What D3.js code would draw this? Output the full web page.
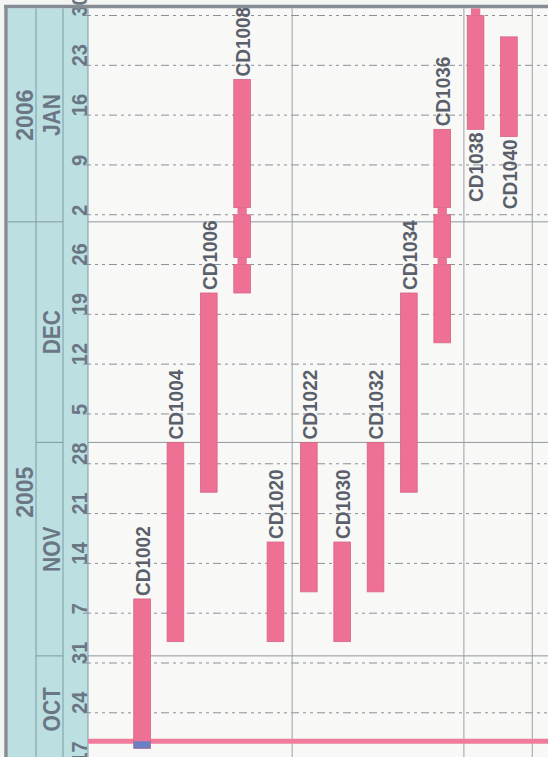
<!DOCTYPE html>
<html>
<head>
<meta charset="utf-8">
<script src="https://cdn.jsdelivr.net/npm/d3@7"></script>
<style>
  html, body { margin: 0; padding: 0; background: #f3f5f2; }
  svg { display: block; }
</style>
</head>
<body>
<svg id="chart" width="548" height="757"></svg>
<script>
// ---- schedule data ----
const tasks      = ["CD1002","CD1004","CD1006","CD1008","CD1020","CD1022","CD1030","CD1032","CD1034","CD1036","CD1038","CD1040"];
const startDates = ["2005-10-19","2005-11-03","2005-11-24","2005-12-22","2005-11-03","2005-11-10","2005-11-03","2005-11-10","2005-11-24","2005-12-15","2006-01-14","2006-01-13"];
const endDates   = ["2005-11-09","2005-12-01","2005-12-22","2006-01-21","2005-11-17","2005-12-01","2005-11-17","2005-12-01","2005-12-22","2006-01-14","2006-01-31","2006-01-27"];
const breakDays  = ["2005-12-26","2006-01-02","2006-01-30"];   // non-working days drawn narrow
const today      = "2005-10-20";
const axisStart  = "2005-10-17";
const axisEnd    = "2006-01-31";

// ---- calendar labels ----
const dayTicks   = ["2005-10-17","2005-10-24","2005-10-31","2005-11-07","2005-11-14","2005-11-21","2005-11-28",
                    "2005-12-05","2005-12-12","2005-12-19","2005-12-26","2006-01-02","2006-01-09","2006-01-16",
                    "2006-01-23","2006-01-30"];
const dayLabels  = ["17","24","31","7","14","21","28","5","12","19","26","2","9","16","23","30"];
const monthStarts = ["2005-10-01","2005-11-01","2005-12-01","2006-01-01"];
const monthLabels = ["OCT","NOV","DEC","JAN"];
const yearStarts  = ["2005-01-01","2006-01-01"];
const yearLabels  = ["2005","2006"];
// column rules, in task-slot units from the left of the task area
const columnRules = [5, 10.15, 12.2];

// ---- layout ----
const W = 548, H = 757;
const plotTop = 8.4, plotBottom = 762.6;
const hdrLeft = 8, yearRight = 36, monthRight = 63, dayRight = 88;

const parse = d3.utcParse("%Y-%m-%d");
const day = 24 * 3600 * 1000;

const y = d3.scaleUtc()
  .domain([parse(axisStart), parse(axisEnd)])
  .range([plotBottom, plotTop]);

const x = d3.scaleBand()
  .domain(tasks)
  .range([125.4, 525.6])
  .paddingInner(0.5)
  .paddingOuter(0.25);

const svg = d3.select("#chart");
const clamp = v => Math.max(plotTop, Math.min(H, v));

// plot background
svg.append("rect")
  .attr("x", dayRight).attr("y", plotTop)
  .attr("width", W - dayRight).attr("height", H - plotTop)
  .attr("fill", "#f8f9f6");

// header band
svg.append("rect")
  .attr("x", hdrLeft).attr("y", plotTop)
  .attr("width", dayRight - hdrLeft).attr("height", H - plotTop)
  .attr("fill", "#bcdfe2");

const grid = svg.append("g");

// weekly dashed rules
grid.selectAll("line.week")
  .data(dayTicks)
  .join("line")
  .attr("class", "week")
  .attr("x1", dayRight - 5).attr("x2", W)
  .attr("y1", d => y(parse(d))).attr("y2", d => y(parse(d)))
  .attr("stroke", "#8a9097")
  .attr("stroke-width", 1)
  .attr("stroke-dasharray", "8,4,3,4,3,4");

// month rules across the plot
grid.selectAll("line.month")
  .data(monthStarts.filter(d => parse(d) > y.domain()[0]))
  .join("line")
  .attr("class", "month")
  .attr("x1", dayRight).attr("x2", W)
  .attr("y1", d => y(parse(d))).attr("y2", d => y(parse(d)))
  .attr("stroke", "#90969d")
  .attr("stroke-width", 1);

// vertical column rules
const slot = x.step();
grid.selectAll("line.col")
  .data(columnRules)
  .join("line")
  .attr("class", "col")
  .attr("x1", d => x.range()[0] + d * slot)
  .attr("x2", d => x.range()[0] + d * slot)
  .attr("y1", plotTop).attr("y2", H)
  .attr("stroke", "#9aa0a6")
  .attr("stroke-width", 1);

// header dividers
const hdr = svg.append("g").attr("stroke", "#7f9aa2").attr("stroke-width", 1);
[yearRight, monthRight, dayRight].forEach(xx =>
  hdr.append("line").attr("x1", xx).attr("x2", xx).attr("y1", plotTop).attr("y2", H));
hdr.selectAll("line.mb")
  .data(monthStarts.filter(d => parse(d) > y.domain()[0]))
  .join("line")
  .attr("class", "mb")
  .attr("x1", d => yearStarts.includes(d) ? hdrLeft : yearRight)
  .attr("x2", monthRight)
  .attr("y1", d => y(parse(d))).attr("y2", d => y(parse(d)));

const hdrText = "#6b7685";
const font = "'Liberation Sans', Arial, Helvetica, sans-serif";

// day-of-month labels
svg.append("g").selectAll("text")
  .data(dayTicks)
  .join("text")
  .attr("transform", d => `translate(${dayRight - 1.5},${y(parse(d)) + 1}) rotate(-90) scale(1,1.12)`)
  .attr("text-anchor", "start")
  .attr("font-family", font).attr("font-weight", "bold").attr("font-size", 20)
  .attr("fill", hdrText)
  .text((d, i) => dayLabels[i]);

// month labels centred on their visible span
function spanMid(startStr, nextStr) {
  const a = Math.max(+parse(startStr), +y.domain()[0]);
  const b = nextStr ? Math.min(+parse(nextStr), +y.domain()[1]) : +y.domain()[1];
  return (y(new Date(a)) + y(new Date(b))) / 2;
}
svg.append("g").selectAll("text")
  .data(monthLabels)
  .join("text")
  .attr("transform", (d, i) => `translate(${monthRight - 3},${spanMid(monthStarts[i], monthStarts[i + 1])}) rotate(-90) scale(1,1.12)`)
  .attr("text-anchor", "middle")
  .attr("font-family", font).attr("font-weight", "bold").attr("font-size", 21)
  .attr("fill", hdrText)
  .text(d => d);

svg.append("g").selectAll("text")
  .data(yearLabels)
  .join("text")
  .attr("transform", (d, i) => `translate(${yearRight - 3},${spanMid(yearStarts[i], yearStarts[i + 1])}) rotate(-90)`)
  .attr("text-anchor", "middle")
  .attr("font-family", font).attr("font-weight", "bold").attr("font-size", 23)
  .attr("fill", hdrText)
  .text(d => d);

// today line
svg.append("line")
  .attr("x1", dayRight).attr("x2", W)
  .attr("y1", y(parse(today))).attr("y2", y(parse(today)))
  .attr("stroke", "#f07b9c")
  .attr("stroke-width", 5);

// task bars, split around non-working days
const barFill = "#ee7094", barStroke = "#d66486";
const breaks = breakDays.map(parse);
const bars = svg.append("g");
tasks.forEach((t, i) => {
  const s = parse(startDates[i]), e = parse(endDates[i]);
  const bx = x(t), bw = x.bandwidth();
  const inside = breaks.filter(b => b >= s && b < e);
  let cur = s;
  const pieces = [];
  inside.forEach(b => {
    if (b > cur) pieces.push({a: cur, b: b, narrow: false});
    pieces.push({a: b, b: new Date(+b + day), narrow: true});
    cur = new Date(+b + day);
  });
  if (cur < e) pieces.push({a: cur, b: e, narrow: false});

  bars.selectAll(null)
    .data(pieces)
    .join("rect")
    .attr("x", p => p.narrow ? bx + bw * 0.22 : bx)
    .attr("width", p => p.narrow ? bw * 0.56 : bw)
    .attr("y", p => clamp(y(p.b)))
    .attr("height", p => clamp(y(p.a)) - clamp(y(p.b)))
    .attr("fill", barFill)
    .attr("stroke", p => p.narrow ? "none" : barStroke)
    .attr("stroke-width", 0.8);

  // completed portion up to today
  const td = parse(today);
  if (s < td) {
    const pe = e < td ? e : td;
    bars.append("rect")
      .attr("x", bx).attr("width", bw)
      .attr("y", y(pe)).attr("height", y(s) - y(pe))
      .attr("fill", "#6a80c2");
  }

  // task label: above the bar, or below it when the bar reaches the top
  const cx = bx + bw / 2;
  const topY = y(e);
  const below = topY - plotTop < 60;
  bars.append("text")
    .attr("transform", `translate(${cx},${below ? y(s) + 3 : topY - 3}) rotate(-90) scale(1,1.08)`)
    .attr("dy", "0.38em")
    .attr("text-anchor", below ? "end" : "start")
    .attr("font-family", font).attr("font-weight", "bold").attr("font-size", 19)
    .attr("fill", "#5a606b")
    .text(t);
});

// outer frame
svg.append("line")
  .attr("x1", 4).attr("x2", W).attr("y1", 6.5).attr("y2", 6.5)
  .attr("stroke", "#868c94").attr("stroke-width", 3.5);
svg.append("line")
  .attr("x1", 6).attr("x2", 6).attr("y1", 5).attr("y2", H)
  .attr("stroke", "#868c94").attr("stroke-width", 3.5);
</script>
</body>
</html>
